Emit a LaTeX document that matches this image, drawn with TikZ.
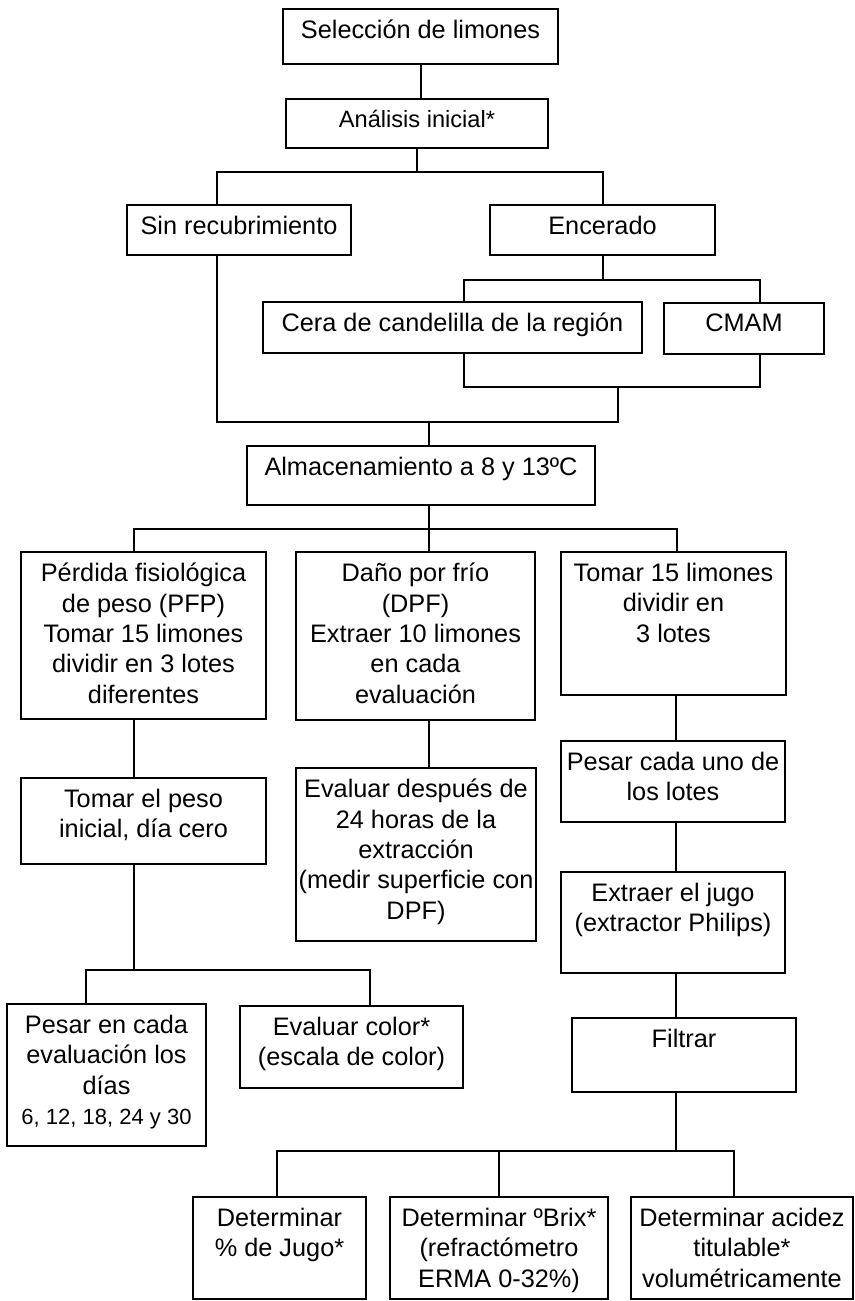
\documentclass[tikz,border=0pt]{standalone}
\usepackage{fontspec}
\setmainfont{Liberation Sans}
\usetikzlibrary{positioning}

\newdimen\unitpx
\unitpx=0.5pt
% texto arriba dentro de la caja (ancho, alto en px)
\newcommand{\cajatxt}[3]{\parbox[c][#2\unitpx][t]{#1\unitpx}{\centering\vspace*{5.5pt}#3}}

\begin{document}
\begin{tikzpicture}[x=0.5pt,y=-0.5pt,
	caja/.style={draw,line width=1pt,inner sep=0pt,font=\fontsize{12.65}{15.2}\selectfont},
	linea/.style={line width=1pt}]
\useasboundingbox (0,0) rectangle (855,1301);

\node [caja] (sel) at (420.5,36.5) {\cajatxt{275}{55}{Selección de limones}};
\node [caja,font=\fontsize{11.8}{14}\selectfont] (ana) at (417,123.5) {\cajatxt{262}{49}{Análisis inicial*}};
\node [caja] (sin) at (239,230) {\cajatxt{224}{50}{Sin recubrimiento}};
\node [caja] (enc) at (602.5,230) {\cajatxt{225}{50}{Encerado}};
\node [caja] (cera) at (452.5,327.5) {\cajatxt{379}{51}{Cera de candelilla de la región}};
\node [caja] (cmam) at (744,328.5) {\cajatxt{160}{51}{CMAM}};
\node [caja] (alm) at (421,475.5) {\cajatxt{348}{59}{Almacenamiento a 8 y 13ºC}};

\node [caja] (pfp) at (143.5,635.5) {\cajatxt{245}{167}{Pérdida fisiológica\\ de peso (PFP)\\ Tomar 15 limones\\ dividir en 3 lotes\\ diferentes}};
\node [caja] (dpf) at (415.5,636) {\cajatxt{239}{168}{Daño por frío\\ (DPF)\\ Extraer 10 limones\\ en cada\\ evaluación}};
\node [caja] (t15) at (673.5,623.5) {\cajatxt{225}{143}{Tomar 15 limones\\ dividir en\\ 3 lotes}};

\node [caja] (peso) at (143.5,821) {\cajatxt{245}{86}{Tomar el peso\\ inicial, día cero}};
\node [caja] (desp) at (416,854.5) {\cajatxt{240}{173}{Evaluar después de\\ 24 horas de la\\ extracción\\ (medir superficie con\\ DPF)}};
\node [caja] (pesar) at (673,781.5) {\cajatxt{224}{81}{Pesar cada uno de\\ los lotes}};
\node [caja] (jugo) at (673,922.5) {\cajatxt{224}{101}{Extraer el jugo\\ (extractor Philips)}};

\node [caja] (dias) at (106.5,1075) {\cajatxt{199}{142}{Pesar en cada\\ evaluación los\\ días\\ {\fontsize{11}{15.2}\selectfont 6, 12, 18, 24 y 30}}};
\node [caja] (color) at (351.5,1047) {\cajatxt{223}{82}{Evaluar color*\\ (escala de color)}};
\node [caja] (filt) at (684,1055) {\cajatxt{224}{74}{Filtrar}};

\node [caja] (porc) at (279.5,1248) {\cajatxt{173}{102}{Determinar\\ \% de Jugo*}};
\node [caja] (brix) at (499,1248) {\cajatxt{218}{102}{Determinar ºBrix*\\ (refractómetro\\ ERMA 0-32\%)}};
\node [caja] (acid) at (742,1248) {\cajatxt{222}{102}{Determinar acidez\\ titulable*\\ volumétricamente}};

% puntos de union
\coordinate (b1) at (427,172);
\coordinate (b2) at (605,280);
\coordinate (b3) at (618,387);
\coordinate (b4) at (429,422);
\coordinate (b5) at (429,529);
\coordinate (b6) at (134,970);
\coordinate (b7) at (676,1151);

\draw [linea] (sel.south) -- (sel.south |- ana.north);
\draw [linea] (ana.south) -- (ana.south |- b1);
\draw [linea] ([xshift=-11pt]sin.north) |- (b1) -| (enc.north);

\draw [linea] (enc.south) -- (enc.south |- b2);
\draw [linea] ([xshift=5.75pt]cera.north) |- (b2) -| ([xshift=8pt]cmam.north);
\draw [linea] ([xshift=5.75pt]cera.south) |- (b3) -| ([xshift=8pt]cmam.south);
\draw [linea] ([xshift=-11pt]sin.south) |- (b4) -| (b3);
\draw [linea] (b4) -- (b4 |- alm.north);

\draw [linea] (b5 |- alm.south) -- (b5);
\draw [linea] ([xshift=-4.75pt]pfp.north) |- (b5) -| ([xshift=1.75pt]t15.north);
\draw [linea] (b5) -- (b5 |- dpf.north);

\draw [linea] ([xshift=-4.75pt]pfp.south) -- ([xshift=-4.75pt]peso.north);
\draw [linea] (b5 |- dpf.south) -- (b5 |- desp.north);
\draw [linea] (t15.south -| b7) -- (pesar.north -| b7);
\draw [linea] (pesar.south -| b7) -- (jugo.north -| b7);
\draw [linea] (jugo.south -| b7) -- (filt.north -| b7);

\draw [linea] ([xshift=-4.75pt]peso.south) -- (b6);
\draw [linea] ([xshift=-10.25pt]dias.north) |- (b6) -| ([xshift=9.25pt]color.north);

\draw [linea] (filt.south -| b7) -- (b7);
\draw [linea] ([xshift=-1.25pt]porc.north) |- (b7) -| ([xshift=-4pt]acid.north);
\draw [linea] (b7 -| brix.north) -- (brix.north);

\end{tikzpicture}
\end{document}
